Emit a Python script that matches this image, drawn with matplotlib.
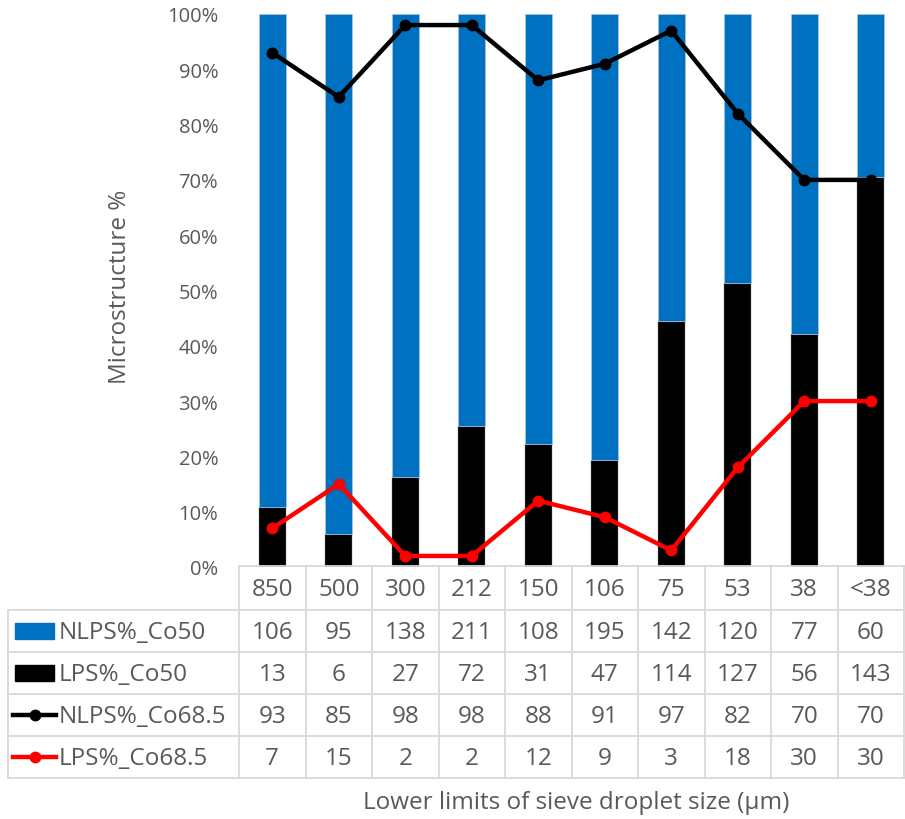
import matplotlib
matplotlib.use("Agg")
import matplotlib.pyplot as plt
from matplotlib.lines import Line2D
from matplotlib.patches import Rectangle

# Sieve fractions (lower limits, µm)
categories = ["850", "500", "300", "212", "150", "106", "75", "53", "38", "<38"]

# Co50 particle counts
nlps_co50 = [106, 95, 138, 211, 108, 195, 142, 120, 77, 60]
lps_co50 = [13, 6, 27, 72, 31, 47, 114, 127, 56, 143]

# Co68.5 percentages
nlps_co685 = [93, 85, 98, 98, 88, 91, 97, 82, 70, 70]
lps_co685 = [7, 15, 2, 2, 12, 9, 3, 18, 30, 30]

series_names = ["NLPS%_Co50", "LPS%_Co50", "NLPS%_Co68.5", "LPS%_Co68.5"]

BLUE = "#0070C0"
RED = "#FF0000"
TXT = "#595959"
GRID = "#D9D9D9"
FONT = "Open Sans"

W, H = 905, 820
fig = plt.figure(figsize=(W / 100, H / 100), dpi=100)

# pixel geometry of plot area
x0, x1 = 239, 904
y_top, y_bot = 15, 568


def fx(px):
    return px / W


def fy(py):
    return 1 - py / H


ax = fig.add_axes([fx(x0), fy(y_bot), fx(x1) - fx(x0), fy(y_top) - fy(y_bot)])

n = len(categories)
xs = list(range(n))
totals = [a + b for a, b in zip(nlps_co50, lps_co50)]
lps_pct = [100 * b / t for b, t in zip(lps_co50, totals)]
nlps_pct = [100 * a / t for a, t in zip(nlps_co50, totals)]

bw = 0.41
ax.bar(xs, lps_pct, width=bw, color="black", edgecolor="#7F7F7F", linewidth=0.3, zorder=2)
ax.bar(xs, nlps_pct, width=bw, bottom=lps_pct, color=BLUE, edgecolor="#9DC3E6",
       linewidth=0.6, zorder=2)

ax.plot(xs, nlps_co685, color="black", lw=3.2, marker="o", ms=7.5, zorder=4,
        solid_joinstyle="round")
ax.plot(xs, lps_co685, color=RED, lw=3.2, marker="o", ms=7.5, zorder=4,
        solid_joinstyle="round")

ax.set_xlim(-0.5, n - 0.5)
ax.set_ylim(0, 100)
ax.set_yticks(range(0, 101, 10))
ax.set_yticklabels([f"{v}%" for v in range(0, 101, 10)], fontfamily=FONT,
                   fontsize=14.5, color=TXT)
ax.tick_params(axis="y", length=0, pad=15)
ax.set_xticks([])
for s in ax.spines.values():
    s.set_visible(False)

fig.text(fx(120), fy(287), "Microstructure %", rotation=90, ha="center", va="center",
         fontfamily=FONT, fontsize=17.5, color=TXT)

# data table
rows_y = [567, 611, 653, 695, 737, 779]
col_w = (x1 - x0) / n
left_edge = 8
lw_tab = 1.3


def hline(py, xa, xb):
    fig.add_artist(Line2D([fx(xa), fx(xb)], [fy(py), fy(py)], color=GRID, lw=lw_tab))


def vline(px, ya, yb):
    fig.add_artist(Line2D([fx(px), fx(px)], [fy(ya), fy(yb)], color=GRID, lw=lw_tab))


hline(rows_y[0], x0, x1)
for py in rows_y[1:]:
    hline(py, left_edge, x1)
vline(left_edge, rows_y[1], rows_y[-1])
for i in range(n + 1):
    vline(x0 + i * col_w, rows_y[0], rows_y[-1])

tfs = 17.5
for i, c in enumerate(categories):
    fig.text(fx(x0 + (i + 0.5) * col_w), fy((rows_y[0] + rows_y[1]) / 2 + 1), c,
             ha="center", va="center", fontfamily=FONT, fontsize=tfs, color=TXT)

table_rows = [nlps_co50, lps_co50, nlps_co685, lps_co685]
for r, vals in enumerate(table_rows):
    yc = (rows_y[r + 1] + rows_y[r + 2]) / 2
    for i, v in enumerate(vals):
        fig.text(fx(x0 + (i + 0.5) * col_w), fy(yc + 1), str(v), ha="center",
                 va="center", fontfamily=FONT, fontsize=tfs, color=TXT)
    fig.text(fx(59), fy(yc + 1), series_names[r], ha="left", va="center",
             fontfamily=FONT, fontsize=tfs, color=TXT)

# legend keys
key_specs = [("box", BLUE), ("box", "black"), ("line", "black"), ("line", RED)]
for r, (kind, col) in enumerate(key_specs):
    yc = (rows_y[r + 1] + rows_y[r + 2]) / 2
    if kind == "box":
        fig.add_artist(Rectangle((fx(15), fy(yc + 8)), fx(54) - fx(15), fy(yc - 8) - fy(yc + 8),
                                 color=col, transform=fig.transFigure))
    else:
        fig.add_artist(Line2D([fx(13), fx(56)], [fy(yc), fy(yc)], color=col, lw=3.2))
        fig.add_artist(Line2D([fx(34.5)], [fy(yc)], color=col, marker="o", ms=7.5))

fig.text(fx(576), fy(803), "Lower limits of sieve droplet size (µm)", ha="center",
         va="center", fontfamily=FONT, fontsize=17.5, color=TXT)

fig.savefig("out.png", dpi=100)
